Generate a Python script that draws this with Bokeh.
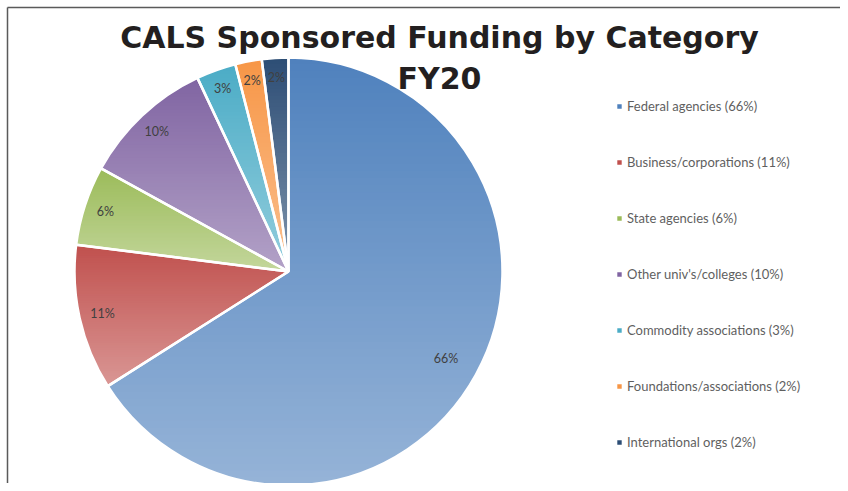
import numpy as np
from bokeh.plotting import figure
from bokeh.models import ColumnDataSource, Legend, LegendItem, Range1d
from bokeh.core.properties import value
from bokeh.embed import file_html
from bokeh.resources import INLINE

# ---- data ----
categories = ["Federal agencies", "Business/corporations", "State agencies",
              "Other univ's/colleges", "Commodity associations",
              "Foundations/associations", "International orgs"]
shares = [66, 11, 6, 10, 3, 2, 2]
pct_labels = ["66%", "11%", "6%", "10%", "3%", "2%", "2%"]
colors = ["#4F81BD", "#C0504D", "#9BBB59", "#8064A2", "#4BACC6", "#F79646", "#2C4D75"]
title_lines = ["CALS Sponsored Funding by Category", "FY20"]

# ---- layout ----
W, H = 840, 483
p = figure(width=W, height=H, x_range=Range1d(0, W), y_range=Range1d(0, H),
           output_backend="svg", toolbar_location=None,
           x_axis_location=None, y_axis_location=None, min_border=0,
           outline_line_color=None)
p.grid.visible = False
p.background_fill_color = "white"


def Y(ref_y):
    return H - ref_y


cx, cy, R = 288, Y(271), 214
n = len(shares)
total = float(sum(shares))
ang = np.array(shares) / total * 2 * np.pi
cum = np.cumsum(ang)
start = np.pi / 2 - (cum - ang)
end = np.pi / 2 - cum

src = ColumnDataSource(dict(x=[cx] * n, y=[cy] * n, start=start, end=end,
                            color=colors, cat=categories))
base = p.wedge(x="x", y="y", radius=R, start_angle="start", end_angle="end",
               direction="clock", fill_color="color", line_color="white",
               line_width=2, source=src)


def tint(hexc, f):
    r, g, b = int(hexc[1:3], 16), int(hexc[3:5], 16), int(hexc[5:7], 16)
    return "#%02x%02x%02x" % tuple(int(round(c + (255 - c) * f)) for c in (r, g, b))


def clip(poly, yv, keep_above):
    out = []
    m = len(poly)
    for i in range(m):
        P, Q = poly[i], poly[(i + 1) % m]
        inP = P[1] >= yv if keep_above else P[1] <= yv
        inQ = Q[1] >= yv if keep_above else Q[1] <= yv
        if inP:
            out.append(P)
        if inP != inQ:
            t = (yv - P[1]) / (Q[1] - P[1])
            out.append((P[0] + t * (Q[0] - P[0]), yv))
    return out


# gradient shading of each slice (derived from the wedge geometry)
gx, gy, gc = [], [], []
for i in range(n):
    th = np.linspace(start[i], end[i], max(10, int(abs(ang[i]) * 80)))
    poly = [(cx, cy)] + [(cx + R * np.cos(t), cy + R * np.sin(t)) for t in th]
    yy = [q[1] for q in poly]
    ytop, ybot = max(yy), min(yy)
    nb = 60
    edges = np.linspace(ytop, ybot, nb + 1)
    for k in range(nb):
        y_hi = edges[k] + (0.8 if k > 0 else 0)
        y_lo = edges[k + 1]
        pc = clip(clip(poly, y_lo, True), y_hi, False)
        if len(pc) < 3:
            continue
        gx.append([q[0] for q in pc])
        gy.append([q[1] for q in pc])
        gc.append(tint(colors[i], 0.4 * (k + 0.5) / nb))
p.patches(gx, gy, fill_color=gc, line_color=None)

# slice separators
p.wedge(x="x", y="y", radius=R, start_angle="start", end_angle="end",
        direction="clock", fill_color=None, line_color="white",
        line_width=2.5, source=src)

# data labels
label_r = [0.84, 0.89, 0.90, 0.90, 0.91, 0.91, 0.91]
mid = (start + end) / 2
lx = [cx + label_r[i] * R * np.cos(mid[i]) for i in range(n)]
ly = [cy + label_r[i] * R * np.sin(mid[i]) for i in range(n)]
p.text(x=lx, y=ly, text=pct_labels, text_align="center", text_baseline="middle",
       text_font=value("Lato"), text_font_size="12.5px", text_color="#404040")

# title
p.text(x=[439, 439], y=[Y(37), Y(78)], text=title_lines, text_align="center",
       text_baseline="alphabetic", text_font=value("DejaVu Sans"),
       text_font_style="bold", text_font_size="30px", text_color="#231f20")

# frame lines (top and left)
p.line(x=[7, 7], y=[-10, Y(7)], line_color="#5a5a5a", line_width=1.5)
p.line(x=[7, W], y=[Y(7), Y(7)], line_color="#5a5a5a", line_width=1.5)

legend_top = 96
legend_h = 7 * 20 + 6 * 36
legend = Legend(
    items=[LegendItem(label=f"{categories[i]} ({shares[i]}%)", renderers=[base], index=i)
           for i in range(n)],
    location=(615, H - legend_top - legend_h), orientation="vertical",
    glyph_width=8, glyph_height=8, label_standoff=4, label_height=20,
    spacing=36, padding=0, margin=0,
    label_text_font="Lato", label_text_font_size="13px", label_text_color="#5f5f5f",
    border_line_color=None, background_fill_alpha=0,
)
p.add_layout(legend, "center")

open("out.html", "w").write(file_html(p, INLINE))
